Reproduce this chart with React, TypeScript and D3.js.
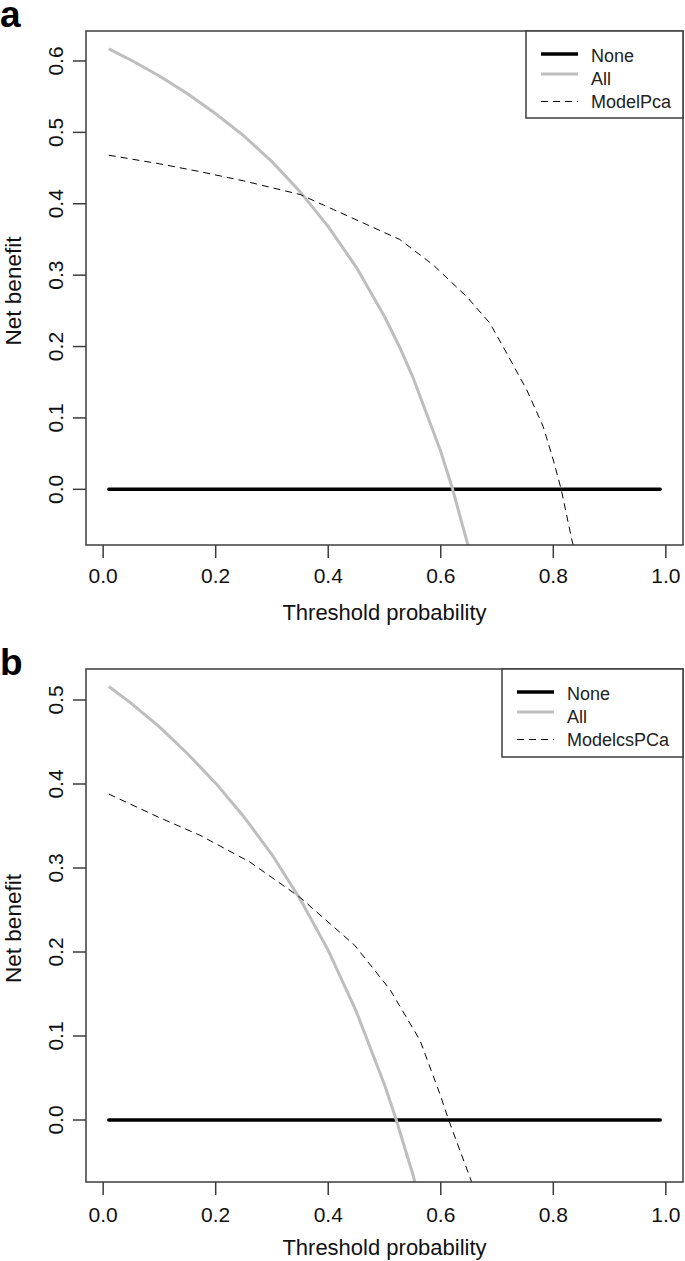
import * as d3 from "d3";

// threshold probabilities shared by all curves
const xTicks = [0, 0.2, 0.4, 0.6, 0.8, 1.0];
const noneX = [0.01, 0.99];
const noneY = [0, 0];

// panel a
const aTicksY = [0, 0.1, 0.2, 0.3, 0.4, 0.5, 0.6];
const aAllX = [0.01, 0.05, 0.1, 0.15, 0.2, 0.25, 0.3, 0.35, 0.4, 0.45, 0.5, 0.527, 0.55, 0.6, 0.62, 0.65];
const aAllY = [0.617, 0.601, 0.579, 0.554, 0.526, 0.495, 0.459, 0.417, 0.368, 0.311, 0.242, 0.199, 0.158, 0.053, 0.003, -0.083];
const aModelX = [0.01, 0.1, 0.172, 0.25, 0.35, 0.409, 0.468, 0.527, 0.587, 0.646, 0.687, 0.717, 0.753, 0.782, 0.8, 0.814, 0.833, 0.836];
const aModelY = [0.468, 0.456, 0.445, 0.432, 0.413, 0.392, 0.371, 0.35, 0.314, 0.27, 0.233, 0.191, 0.139, 0.088, 0.041, 0, -0.071, -0.08];

// panel b
const bTicksY = [0, 0.1, 0.2, 0.3, 0.4, 0.5];
const bAllX = [0.01, 0.05, 0.1, 0.15, 0.2, 0.25, 0.3, 0.35, 0.4, 0.45, 0.5, 0.52, 0.55, 0.56];
const bAllY = [0.516, 0.496, 0.468, 0.436, 0.401, 0.361, 0.316, 0.263, 0.202, 0.129, 0.042, 0.002, -0.064, -0.089];
const bModelX = [0.01, 0.1, 0.172, 0.261, 0.35, 0.447, 0.51, 0.563, 0.599, 0.614, 0.655, 0.66];
const bModelY = [0.388, 0.36, 0.339, 0.307, 0.265, 0.208, 0.155, 0.095, 0.03, 0, -0.074, -0.08];

const FONT = "'Liberation Sans', Arial, sans-serif";

type PanelProps = {
  id: string;
  letter: string;
  letterY: number;
  top: number;
  bottom: number;
  yDomain: [number, number];
  yTicks: number[];
  allX: number[];
  allY: number[];
  modelX: number[];
  modelY: number[];
  modelName: string;
  legendLeft: number;
  legendHeight: number;
  tickLabelY: number;
  titleY: number;
};

function Panel(p: PanelProps) {
  const left = 86;
  const right = 683;
  const x = d3.scaleLinear().domain([-0.0305, 1.0305]).range([left, right]);
  const y = d3.scaleLinear().domain(p.yDomain).range([p.bottom, p.top]);

  const path = (xs: number[], ys: number[]) =>
    d3
      .line<number>()
      .x((d) => x(d))
      .y((_, i) => y(ys[i]))(xs) ?? "";

  const clipId = `clip-${p.id}`;
  const lx = p.legendLeft;
  const ly = p.top;
  const legendItems = [
    { name: "None", stroke: "#000", width: 3.5, dash: undefined as string | undefined, lineDy: 23, textDy: 31 },
    { name: "All", stroke: "#bebebe", width: 3, dash: undefined, lineDy: 43, textDy: 54 },
    { name: p.modelName, stroke: "#000", width: 1, dash: "7,5", lineDy: 70.5, textDy: 77 },
  ];
  const boxStroke = "#3c3c3c";
  const midY = (p.top + p.bottom) / 2 + 3;

  return (
    <g>
      <text x={0} y={p.letterY} fontFamily={FONT} fontWeight="bold" fontSize={37} fill="#000">
        {p.letter}
      </text>
      <defs>
        <clipPath id={clipId}>
          <rect x={left} y={p.top} width={right - left} height={p.bottom - p.top} />
        </clipPath>
      </defs>

      <g clipPath={`url(#${clipId})`} fill="none">
        <path d={path(noneX, noneY)} stroke="#000" strokeWidth={3.5} strokeLinecap="round" />
        <path d={path(p.allX, p.allY)} stroke="#bebebe" strokeWidth={3} />
        <path d={path(p.modelX, p.modelY)} stroke="#000" strokeWidth={1} strokeDasharray="7,5" />
      </g>

      <rect
        x={left}
        y={p.top}
        width={right - left}
        height={p.bottom - p.top}
        fill="none"
        stroke={boxStroke}
        strokeWidth={1.5}
      />

      {/* y axis */}
      {p.yTicks.map((t) => (
        <g key={`y${t}`}>
          <line x1={73} x2={left} y1={y(t)} y2={y(t)} stroke={boxStroke} strokeWidth={1.5} />
          <text
            transform={`translate(63,${y(t)}) rotate(-90)`}
            textAnchor="middle"
            fontFamily={FONT}
            fontSize={21}
            fill="#111"
          >
            {t.toFixed(1)}
          </text>
        </g>
      ))}
      <text
        transform={`translate(21,${midY}) rotate(-90)`}
        textAnchor="middle"
        fontFamily={FONT}
        fontSize={22.5}
        fill="#111"
      >
        Net benefit
      </text>

      {/* x axis */}
      {xTicks.map((t) => (
        <g key={`x${t}`}>
          <line x1={x(t)} x2={x(t)} y1={p.bottom} y2={p.bottom + 13} stroke={boxStroke} strokeWidth={1.5} />
          <text x={x(t)} y={p.tickLabelY} textAnchor="middle" fontFamily={FONT} fontSize={21} fill="#111">
            {t.toFixed(1)}
          </text>
        </g>
      ))}
      <text
        x={(x(0) + x(1)) / 2}
        y={p.titleY}
        textAnchor="middle"
        fontFamily={FONT}
        fontSize={22}
        fill="#111"
      >
        Threshold probability
      </text>

      {/* legend */}
      <rect
        x={lx}
        y={ly}
        width={right - lx}
        height={p.legendHeight}
        fill="#fff"
        stroke={boxStroke}
        strokeWidth={1.5}
      />
      {legendItems.map((it) => (
        <g key={it.name}>
          <line
            x1={lx + 15}
            x2={lx + 52}
            y1={ly + it.lineDy}
            y2={ly + it.lineDy}
            stroke={it.stroke}
            strokeWidth={it.width}
            strokeDasharray={it.dash}
          />
          <text x={lx + 65} y={ly + it.textDy} fontFamily={FONT} fontSize={18} fill="#222">
            {it.name}
          </text>
        </g>
      ))}
    </g>
  );
}

export default function App() {
  return (
    <svg
      width={685}
      height={1261}
      style={{ position: "absolute", left: 0, top: 0, background: "#fff" }}
    >
      <rect width={685} height={1261} fill="#fff" />
      <Panel
        id="a"
        letter="a"
        letterY={27}
        top={31}
        bottom={545}
        yDomain={[-0.078, 0.642]}
        yTicks={aTicksY}
        allX={aAllX}
        allY={aAllY}
        modelX={aModelX}
        modelY={aModelY}
        modelName="ModelPca"
        legendLeft={526}
        legendHeight={87}
        tickLabelY={583}
        titleY={620}
      />
      <Panel
        id="b"
        letter="b"
        letterY={675}
        top={669}
        bottom={1182}
        yDomain={[-0.0738, 0.5369]}
        yTicks={bTicksY}
        allX={bAllX}
        allY={bAllY}
        modelX={bModelX}
        modelY={bModelY}
        modelName="ModelcsPCa"
        legendLeft={502}
        legendHeight={88}
        tickLabelY={1222}
        titleY={1255}
      />
    </svg>
  );
}
